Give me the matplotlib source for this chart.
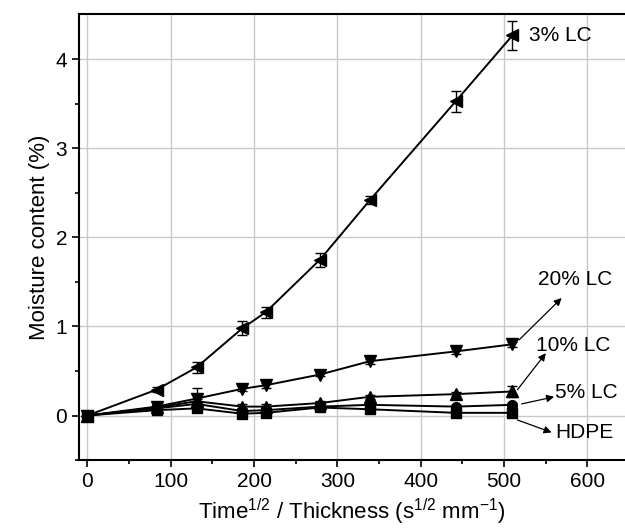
import numpy as np
import matplotlib
matplotlib.use("Agg")
import matplotlib.pyplot as plt

plt.rcParams['font.family'] = ['Liberation Sans', 'DejaVu Sans']
plt.rcParams['mathtext.fontset'] = 'custom'
plt.rcParams['mathtext.rm'] = 'Liberation Sans'
plt.rcParams['mathtext.it'] = 'Liberation Sans'

# x positions (time^1/2 / thickness)
x = [0, 83, 131, 186, 214, 279, 339, 442, 510]

# moisture content (%) per material
lc3 = [0, 0.29, 0.54, 0.98, 1.16, 1.75, 2.42, 3.53, 4.27]
lc3_err = [0, 0.03, 0.06, 0.08, 0.06, 0.08, 0.04, 0.12, 0.16]
lc20 = [0, 0.10, 0.19, 0.30, 0.34, 0.46, 0.61, 0.72, 0.80]
lc20_err = [0, 0.02, 0.12, 0.03, 0.03, 0.02, 0.03, 0.03, 0.03]
lc10 = [0, 0.09, 0.16, 0.10, 0.10, 0.14, 0.21, 0.24, 0.27]
lc10_err = [0, 0.02, 0.03, 0.03, 0.03, 0.02, 0.02, 0.02, 0.06]
lc5 = [0, 0.08, 0.13, 0.05, 0.06, 0.10, 0.12, 0.10, 0.12]
lc5_err = [0, 0.02, 0.02, 0.03, 0.03, 0.02, 0.02, 0.02, 0.02]
hdpe = [0, 0.06, 0.08, 0.02, 0.03, 0.09, 0.07, 0.03, 0.03]
hdpe_err = [0, 0.02, 0.02, 0.02, 0.02, 0.02, 0.02, 0.02, 0.02]

series = [
    (hdpe, hdpe_err, 's', 7),
    (lc5, lc5_err, 'o', 7),
    (lc10, lc10_err, '^', 8),
    (lc20, lc20_err, 'v', 8),
    (lc3, lc3_err, '<', 8),
]

fig = plt.figure(figsize=(6.25, 5.32), dpi=100)
ax = fig.add_axes([0.1264, 0.1353, 0.8736, 0.8384])

for y, err, m, ms in series:
    ax.errorbar(x, y, yerr=err, color='black', marker=m, markersize=ms,
                linewidth=1.4, elinewidth=1, capsize=3.5, capthick=1, zorder=3)

# labels
fs = 15
ax.text(530, 4.27, '3% LC', fontsize=fs, va='center', ha='left')
labels = [
    ('20% LC', (541, 1.53), (518, 0.85), (569, 1.32)),
    ('10% LC', (538, 0.79), (516, 0.29), (550, 0.70)),
    ('5% LC', (561, 0.26), (521, 0.13), (560, 0.21)),
    ('HDPE', (561, -0.19), (516, -0.05), (557, -0.19)),
]
for txt, tpos, a0, a1 in labels:
    ax.text(tpos[0], tpos[1], txt, fontsize=fs, va='center', ha='left')
    ax.annotate('', xy=a1, xytext=a0,
                arrowprops=dict(arrowstyle='-|>', color='black', lw=0.9,
                                mutation_scale=11, shrinkA=0, shrinkB=0))

ax.set_xlim(-10, 645)
ax.set_ylim(-0.5, 4.51)
ax.set_xticks([0, 100, 200, 300, 400, 500, 600])
ax.set_xticks(np.arange(50, 650, 100), minor=True)
ax.set_yticks([0, 1, 2, 3, 4])
ax.set_yticks([-0.5, 0.5, 1.5, 2.5, 3.5], minor=True)
ax.grid(True, which='major', color='#c8c8c8', linewidth=1)
ax.set_axisbelow(True)
ax.tick_params(which='major', direction='out', length=5, width=1.2, labelsize=15)
ax.tick_params(which='minor', direction='out', length=3, width=1.2)
for s in ax.spines.values():
    s.set_linewidth(1.5)
ax.spines['right'].set_visible(False)

ax.set_xlabel('Time$^{1/2}$ / Thickness (s$^{1/2}$ mm$^{-1}$)', fontsize=16)
ax.set_ylabel('Moisture content (%)', fontsize=16)

fig.savefig('out.png', dpi=100)
